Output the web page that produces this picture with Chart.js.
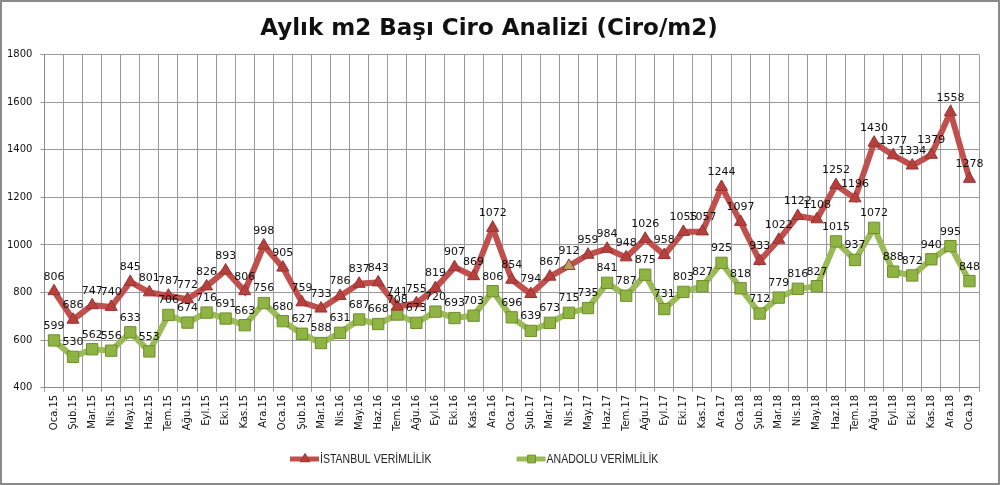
<!DOCTYPE html>
<html lang="tr">
<head>
    <meta charset="UTF-8">
    <title>Aylık m2 Başı Ciro Analizi</title>
    <script src="https://cdn.jsdelivr.net/npm/chart.js@4.4.0/dist/chart.umd.min.js"></script>
    <style>
        body {
            margin: 0;
            background-color: white;
        }

        .wrap {
            position: relative;
            width: 1000px;
            height: 485px;
        }

        .frame {
            position: absolute;
            left: 0;
            top: 0;
            width: 1000px;
            height: 485px;
            box-sizing: border-box;
            border: 2px solid #8a8a8a;
            pointer-events: none;
        }
    </style>
</head>
<body>
    <div class="wrap">
        <canvas id="ciroChart" width="1000" height="485"></canvas>
        <div class="frame"></div>
    </div>

    <script>
        // months Oca.15 .. Oca.19
        const categories = [
            'Oca.15','Şub.15','Mar.15','Nis.15','May.15','Haz.15','Tem.15','Ağu.15','Eyl.15','Eki.15','Kas.15','Ara.15',
            'Oca.16','Şub.16','Mar.16','Nis.16','May.16','Haz.16','Tem.16','Ağu.16','Eyl.16','Eki.16','Kas.16','Ara.16',
            'Oca.17','Şub.17','Mar.17','Nis.17','May.17','Haz.17','Tem.17','Ağu.17','Eyl.17','Eki.17','Kas.17','Ara.17',
            'Oca.18','Şub.18','Mar.18','Nis.18','May.18','Haz.18','Tem.18','Ağu.18','Eyl.18','Eki.18','Kas.18','Ara.18',
            'Oca.19'
        ];

        const istanbul = [
            806, 686, 747, 740, 845, 801, 787, 772, 826, 893, 806, 998,
            905, 759, 733, 786, 837, 843, 741, 755, 819, 907, 869, 1072,
            854, 794, 867, 912, 959, 984, 948, 1026, 958, 1055, 1057, 1244,
            1097, 933, 1022, 1122, 1108, 1252, 1196, 1430, 1377, 1334, 1379, 1558,
            1278
        ];

        const anadolu = [
            599, 530, 562, 556, 633, 553, 706, 674, 716, 691, 663, 756,
            680, 627, 588, 631, 687, 668, 708, 673, 720, 693, 703, 806,
            696, 639, 673, 715, 735, 841, 787, 875, 731, 803, 827, 925,
            818, 712, 779, 816, 827, 1015, 937, 1072, 888, 872, 940, 995,
            848
        ];

        const seriesNames = ['İSTANBUL VERİMLİLİK', 'ANADOLU VERİMLİLİK'];
        const yMin = 400, yMax = 1800, yStep = 200;

        const textFont = '"DejaVu Sans", Verdana, sans-serif';

        // value labels above each point
        const valueLabels = {
            id: 'valueLabels',
            afterDatasetsDraw(chart) {
                const ctx = chart.ctx;
                ctx.save();
                ctx.font = '11px ' + textFont;
                ctx.fillStyle = '#111';
                ctx.textAlign = 'center';
                ctx.textBaseline = 'bottom';
                chart.data.datasets.forEach((ds, i) => {
                    chart.getDatasetMeta(i).data.forEach((pt, j) => {
                        ctx.fillText(ds.data[j], pt.x, pt.y - 9);
                    });
                });
                ctx.restore();
            }
        };

        // excel style legend: line with marker then narrow text
        const lineLegend = {
            id: 'lineLegend',
            afterDraw(chart) {
                const ctx = chart.ctx;
                const squeeze = 0.81;
                let x = 290;
                const y = 459;
                ctx.save();
                ctx.font = '13px "Liberation Sans", Arial, sans-serif';
                ctx.textBaseline = 'middle';
                chart.data.datasets.forEach((ds) => {
                    ctx.strokeStyle = ds.borderColor;
                    ctx.lineWidth = 5;
                    ctx.beginPath();
                    ctx.moveTo(x, y);
                    ctx.lineTo(x + 29, y);
                    ctx.stroke();
                    ctx.fillStyle = ds.legendMarker;
                    ctx.strokeStyle = ds.pointBorderColor;
                    ctx.lineWidth = 1;
                    Chart.helpers.drawPoint(ctx, {pointStyle: ds.pointStyle, radius: 5.5, borderWidth: 1}, x + 15, y);
                    const w = ctx.measureText(ds.label).width * squeeze;
                    ctx.save();
                    ctx.translate(x + 30, y);
                    ctx.scale(squeeze, 1);
                    ctx.fillStyle = '#222';
                    ctx.fillText(ds.label, 0, 0);
                    ctx.restore();
                    x += 30 + w + 85;
                });
                ctx.restore();
            }
        };

        Chart.defaults.color = '#111';
        Chart.defaults.font.family = textFont;

        const ctx = document.getElementById('ciroChart').getContext('2d');
        const ciroChart = new Chart(ctx, {
            type: 'line',
            data: {
                labels: categories,
                datasets: [{
                    label: seriesNames[0],
                    data: istanbul,
                    borderColor: '#c0504d',
                    borderWidth: 6,
                    pointStyle: 'triangle',
                    pointRadius: 7,
                    pointBackgroundColor: (c) => c.dataIndex === 27 ? '#b8a060' : '#b5403d',
                    legendMarker: '#b5403d',
                    pointBorderColor: '#9a3431',
                    pointBorderWidth: 1,
                    tension: 0
                }, {
                    label: seriesNames[1],
                    data: anadolu,
                    borderColor: '#9bbb59',
                    borderWidth: 6,
                    pointStyle: 'rect',
                    pointRadius: 8,
                    pointBackgroundColor: '#8fb444',
                    legendMarker: '#8fb444',
                    pointBorderColor: '#6e8f2c',
                    pointBorderWidth: 1,
                    tension: 0
                }]
            },
            options: {
                responsive: false,
                animation: false,
                layout: {
                    padding: {left: -1, right: 21, top: 0, bottom: 51}
                },
                plugins: {
                    legend: {display: false},
                    tooltip: {enabled: false},
                    title: {
                        display: true,
                        text: 'Aylık m2 Başı Ciro Analizi (Ciro/m2)',
                        color: '#111',
                        font: {size: 23, weight: 'bold', family: textFont},
                        padding: {top: 15, bottom: 12}
                    }
                },
                scales: {
                    x: {
                        offset: true,
                        grid: {
                            offset: true,
                            color: '#9a9a9a',
                            tickLength: 4
                        },
                        border: {color: '#8a8a8a'},
                        ticks: {
                            autoSkip: false,
                            maxRotation: 90,
                            minRotation: 90,
                            padding: 3,
                            font: {size: 10}
                        }
                    },
                    y: {
                        min: yMin,
                        max: yMax,
                        grid: {
                            color: '#9a9a9a',
                            tickLength: 4
                        },
                        border: {color: '#8a8a8a'},
                        ticks: {
                            stepSize: yStep,
                            padding: 8,
                            font: {size: 10},
                            callback: (v) => String(v)
                        }
                    }
                }
            },
            plugins: [valueLabels, lineLegend]
        });
    </script>
</body>
</html>
